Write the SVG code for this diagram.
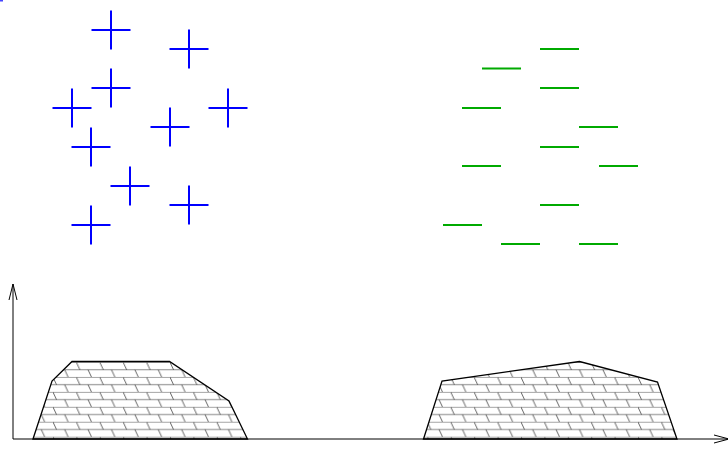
<svg xmlns="http://www.w3.org/2000/svg" width="728" height="476" viewBox="0 0 728 476">
<style>
.cross{stroke:#0000ff;stroke-width:2;fill:none}
.dash{stroke:#00aa00;stroke-width:2;fill:none}
.axis{stroke:#000;stroke-width:1;fill:none}
.outline{stroke:#000;stroke-width:1.3;fill:url(#bricks);stroke-linejoin:miter}
</style>
<defs>
<symbol id="plus" overflow="visible"><path d="M-19.5 0H19.5M0 -19.5V19.5"/></symbol>
<pattern id="bricks" patternUnits="userSpaceOnUse" x="53" y="362" width="23.4" height="14.94">
<rect width="23.4" height="14.94" fill="#fff"/>
<path d="M0 0.3H23.4M0 7.77H23.4" stroke="#888" stroke-width="1"/>
<path d="M0 0.3L3.5 7.77M11.7 7.77L15.2 15.24" stroke="#222" stroke-width="0.7"/>
</pattern>
</defs>
<rect x="0" y="0" width="3" height="1.5" fill="#4444ff"/>
<g id="crosses" class="cross">
<use href="#plus" x="111" y="30"/>
<use href="#plus" x="189" y="49"/>
<use href="#plus" x="111" y="88"/>
<use href="#plus" x="72" y="108"/>
<use href="#plus" x="228" y="108"/>
<use href="#plus" x="170" y="127"/>
<use href="#plus" x="91" y="147"/>
<use href="#plus" x="130" y="186"/>
<use href="#plus" x="189" y="205"/>
<use href="#plus" x="91" y="225"/>
</g>
<g id="dashes" class="dash">
<path d="M540 49H579"/>
<path d="M482 68.5H521"/>
<path d="M540 88H579"/>
<path d="M462 108H501"/>
<path d="M579 127H618"/>
<path d="M540 147H579"/>
<path d="M462 166H501"/>
<path d="M599 166H638"/>
<path d="M540 205H579"/>
<path d="M443 225H482"/>
<path d="M501 244H540"/>
<path d="M579 244H618"/>
</g>
<g id="shape-left">
<path class="outline" d="M33 439L52 381L72 361.5H169.5L229 401L247.5 439Z"/>
</g>
<g id="shape-right">
<path class="outline" d="M423.5 439L442 381L579.5 361.5L657.5 382L677 439Z"/>
</g>
<g id="axes" class="axis">
<path d="M13 439V284M9 300L13 284L17 300"/>
<path d="M13 439H729M714 435L729 439L714 443"/>
</g>
</svg>
